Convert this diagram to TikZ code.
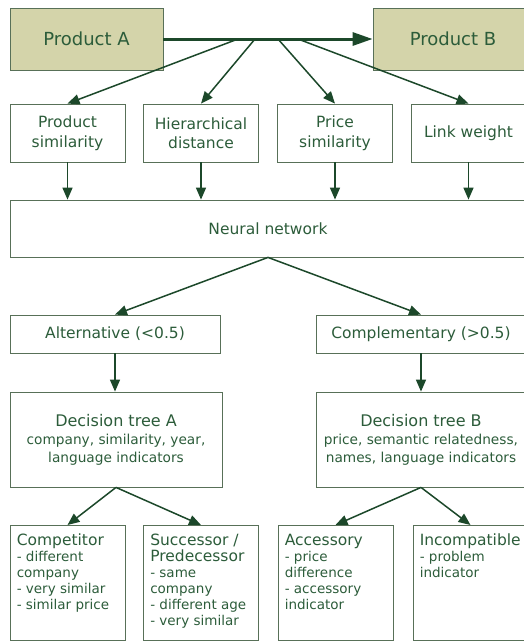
\documentclass[tikz,border=0pt]{standalone}
\usepackage{fontspec}
\setmainfont{DejaVu Sans}
\usetikzlibrary{arrows.meta, positioning}
\definecolor{txtgreen}{RGB}{44,92,58}
\definecolor{arrowgreen}{RGB}{28,72,42}
\definecolor{boxline}{RGB}{88,112,88}
\definecolor{prodfill}{RGB}{212,212,170}
\tikzset{
  box/.style={draw=boxline, line width=0.8pt, text=txtgreen, align=center,
    inner sep=0pt, font=\fontsize{15.5}{19.5}\selectfont}, % every plain box
  prod/.style={box, fill=prodfill, minimum width=153pt, minimum height=62pt,
    font=\fontsize{18}{22}\selectfont}, % the two products
  feat/.style={box, minimum width=115pt, minimum height=58pt}, % feature boxes
  leaf/.style={draw=boxline, line width=0.8pt, minimum width=115pt,
    minimum height=115pt, anchor=north}, % result boxes
  leaftext/.style={text=txtgreen, align=left, inner sep=0pt, anchor=north west,
    font=\fontsize{13.5}{16}\selectfont},
  link/.style={draw=arrowgreen, line width=1.5pt,
    -{Triangle[length=12pt,width=10pt]}},
}
\newcommand{\treefont}{\fontsize{13.7}{16}\selectfont}
\begin{document}
\begin{tikzpicture}[x=1pt, y=-1pt]
  \useasboundingbox (0,0) rectangle (524,641);
  \clip (0,0) rectangle (524,641);

  % the two products
  \node[prod] (prodA) at (86.5,39) {Product A};
  \node[prod, minimum width=160pt] (prodB) at (453,39) {Product B};

  % features
  \node[feat] (psim) at (67.5,133) {Product\\similarity};
  \node[feat] (hdist) at (201,133) {Hierarchical\\distance};
  \node[feat] (pricesim) at (335,133) {Price\\similarity};
  \node[feat] (lweight) at (468.5,133) {Link weight};

  \node[box, minimum width=516pt, minimum height=57pt] (nnet) at (268,228.5)
    {Neural network};

  % the two classes
  \node[box, minimum width=210pt, minimum height=38pt] (alt) at (115,334)
    {Alternative (<0.5)};
  \node[box, minimum width=210pt, minimum height=38pt] (compl) at (421,334)
    {Complementary (>0.5)};

  % decision trees
  \node[box, minimum width=212pt, minimum height=95pt] (treeA) at (116,439.5)
    {{\fontsize{16}{19}\selectfont Decision tree A}\\[-1pt]
    {\treefont company, similarity, year,}\\[-2pt]
    {\treefont language indicators}};
  \node[box, minimum width=210pt, minimum height=95pt] (treeB) at (421,439.5)
    {{\fontsize{16}{19}\selectfont Decision tree B}\\[-1pt]
    {\treefont price, semantic relatedness,}\\[-2pt]
    {\treefont names, language indicators}};

  % results
  \node[leaf] (comp) at (67.5,525) {};
  \node[leaf] (succ) at (201,525) {};
  \node[leaf] (acc) at (335.5,525) {};
  \node[leaf] (incomp) at (470.5,525) {};

  \node[leaftext] (comptxt) at ([shift={(7,9)}]comp.north west)
    {{\fontsize{15.5}{18}\selectfont Competitor}\\ - different\\ company\\
    - very similar\\ - similar price};
  \node[leaftext] (succtxt) at ([shift={(7,9)}]succ.north west)
    {{\fontsize{15.5}{18}\selectfont Successor /}\\
    {\fontsize{15.5}{18}\selectfont Predecessor}\\ - same\\ company\\
    - different age\\ - very similar};
  \node[leaftext] (acctxt) at ([shift={(7,9)}]acc.north west)
    {{\fontsize{15.5}{18}\selectfont Accessory}\\ - price\\ difference\\
    - accessory\\ indicator};
  \node[leaftext] (incomptxt) at ([shift={(7,9)}]incomp.north west)
    {{\fontsize{15.5}{18}\selectfont Incompatible}\\ - problem\\ indicator};

  % main link and where the feature arrows leave it
  \draw[draw=arrowgreen, line width=3pt, -{Triangle[length=20pt,width=13pt]}]
    (prodA) -- (prodB);
  \coordinate (s1) at (238,39);
  \coordinate (s2) at (255,39);
  \coordinate (s3) at (278,39);
  \coordinate (s4) at (298,39);
  \draw[link] (s1) -- (psim.north);
  \draw[link] (s2) -- (hdist.north);
  \draw[link] (s3) -- (pricesim.north);
  \draw[link] (s4) -- (lweight.north);

  \draw[link] (psim) -- (psim |- nnet.north);
  \draw[link] (hdist) -- (hdist |- nnet.north);
  \draw[link] (pricesim) -- (pricesim |- nnet.north);
  \draw[link] (lweight) -- (lweight |- nnet.north);

  \draw[link] (nnet.south) -- (alt.north);
  \draw[link] (nnet.south) -- (compl.north);
  \draw[link] (alt) -- (alt |- treeA.north);
  \draw[link] (compl) -- (compl |- treeB.north);

  \draw[link] (treeA.south) -- (comp.north);
  \draw[link] (treeA.south) -- (succ.north);
  \draw[link] (treeB.south) -- (acc.north);
  \draw[link] (treeB.south) -- (incomp.north);
\end{tikzpicture}
\end{document}
